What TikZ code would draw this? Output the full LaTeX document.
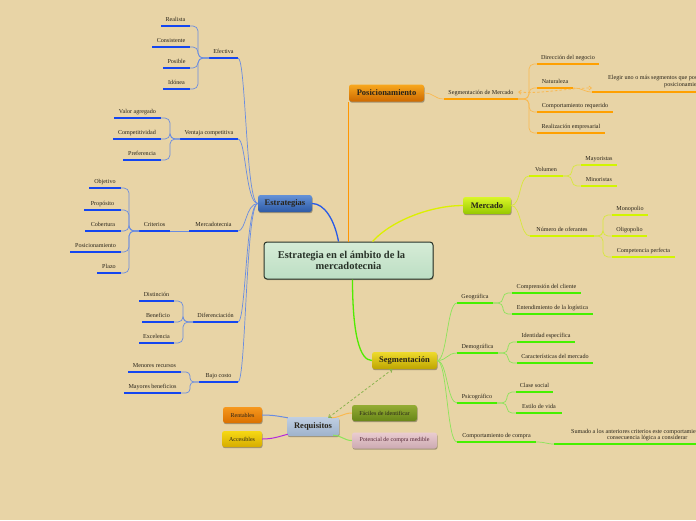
\documentclass[tikz,border=0pt]{standalone}
\usepackage{fontspec}
\setmainfont{Liberation Serif}
\usetikzlibrary{shadows,arrows.meta}
\definecolor{bg}{RGB}{232,212,166}
\definecolor{txt}{RGB}{40,35,25}
\definecolor{bluU}{RGB}{20,70,240}
\definecolor{bluC}{RGB}{105,140,225}
\definecolor{bluM}{RGB}{40,90,230}
\definecolor{oraU}{RGB}{255,160,0}
\definecolor{oraC}{RGB}{250,185,80}
\definecolor{oraM}{RGB}{255,150,0}
\definecolor{ylwU}{RGB}{210,245,0}
\definecolor{ylwC}{RGB}{215,232,60}
\definecolor{ylwM}{RGB}{220,240,0}
\definecolor{grnU}{RGB}{70,240,0}
\definecolor{grnC}{RGB}{140,228,90}
\definecolor{grnM}{RGB}{80,235,0}
\definecolor{purM}{RGB}{180,40,220}
\definecolor{dashG}{RGB}{140,180,80}
\newcommand\mmleaf[6]{%
  \coordinate (#1-l) at (#2,#4);
  \coordinate (#1-r) at (#3,#4);
  \draw[ul,#5] (#1-l) -- (#1-r);
  \node[lbl] (#1) at ({(#2+#3)/2},{#4-5}) {#6};
}
\tikzset{
 ul/.style={line width=2pt},
 conn/.style={line width=0.7pt},
 mainc/.style={line width=1.3pt},
 lbl/.style={anchor=base, inner sep=0pt, font=\fontsize{6.1}{7}\selectfont, text=txt},
 topic/.style={rounded corners=2.5pt, inner sep=0pt, font=\bfseries\fontsize{8.5}{10}\selectfont, text=txt, minimum height=17pt, drop shadow={shadow xshift=0.6pt, shadow yshift=-1.2pt, opacity=0.3, fill=black}},
 sbox/.style={topic, font=\fontsize{6}{7}\selectfont, minimum height=16pt},
 darr/.style={line width=0.8pt, dashed, dash pattern=on 2.5pt off 2pt, {Straight Barb[length=2.5pt,width=4pt]}-{Straight Barb[length=2.5pt,width=4pt]}},
}
\begin{document}
\begin{tikzpicture}[x=1pt,y=-1pt]
\useasboundingbox (0,0) rectangle (696,520);
\fill[bg] (0,0) rectangle (696,520);
\clip (0,0) rectangle (696,520);

% ---------- central and main topics ----------
\node[rounded corners=3pt, draw={rgb,255:red,40;green,50;blue,40}, line width=1pt,
  top color={rgb,255:red,214;green,236;blue,214}, bottom color={rgb,255:red,188;green,222;blue,196},
  minimum width=169pt, minimum height=37pt, align=center, inner sep=0pt,
  font=\bfseries\fontsize{10.5}{10.5}\selectfont, text={rgb,255:red,40;green,50;blue,40},
  drop shadow={shadow xshift=0.6pt, shadow yshift=-1.2pt, opacity=0.25, fill=black}]
  (cen) at (348.5,260.5) {Estrategia en el ámbito de la\hspace*{14pt}\\mercadotecnia};

\node[topic, minimum width=75pt, top color={rgb,255:red,248;green,168;blue,30}, bottom color={rgb,255:red,205;green,105;blue,0}] (posi) at (386.5,93) {Posicionamiento};
\node[topic, minimum width=54pt, top color={rgb,255:red,100;green,145;blue,215}, bottom color={rgb,255:red,45;green,90;blue,165}] (estr) at (285,203.5) {Estrategias};
\node[topic, minimum width=48pt, top color={rgb,255:red,218;green,246;blue,40}, bottom color={rgb,255:red,150;green,200;blue,0}] (merc) at (487,205.5) {Mercado};
\node[topic, minimum width=65pt, top color={rgb,255:red,238;green,218;blue,45}, bottom color={rgb,255:red,190;green,165;blue,0}] (segm) at (404.5,360.5) {Segmentación};
\node[topic, minimum width=52pt, minimum height=19pt, top color={rgb,255:red,192;green,207;blue,226}, bottom color={rgb,255:red,158;green,178;blue,204}] (req) at (313,426.5) {Requisitos};

\node[sbox, minimum width=39pt, top color={rgb,255:red,246;green,152;blue,30}, bottom color={rgb,255:red,218;green,112;blue,0}] (rent) at (242.5,415) {Rentables};
\node[sbox, minimum width=40pt, top color={rgb,255:red,246;green,216;blue,20}, bottom color={rgb,255:red,214;green,172;blue,0}] (acc) at (242,439) {Accesibles};
\node[sbox, minimum width=65pt, top color={rgb,255:red,148;green,172;blue,52}, bottom color={rgb,255:red,104;green,134;blue,24}] (fac) at (384.5,413) {Fáciles de identificar};
\node[sbox, minimum width=85pt, text={rgb,255:red,85;green,40;blue,55}, top color={rgb,255:red,234;green,204;blue,208}, bottom color={rgb,255:red,204;green,170;blue,178}] (pot) at (394.5,440.5) {Potencial de compra medible};

% main connectors
\draw[mainc, bluM] ([xshift=-10pt]cen.north) .. controls +(-4,-22) and +(12,0) .. (estr.east);
\draw[mainc, oraM] (cen.north) -- (cen.north |- posi.south);
\draw[mainc, ylwM] ([xshift=24pt]cen.north) .. controls +(20,-22) and +(-30,0) .. (merc.west);
\draw[mainc, grnM] ([xshift=4pt]cen.south) .. controls +(0,55) and +(-12,0) .. (segm.west);

% requisitos connectors
\draw[line width=1pt, bluC] (rent.east) to[out=0,in=170] ([xshift=1pt,yshift=-1pt]req.north west);
\draw[line width=1pt, purM] (acc.east) to[out=0,in=195] ([xshift=1pt,yshift=2pt]req.south west);
\draw[line width=1pt, oraC] ([xshift=-8pt,yshift=-1pt]req.north east) to[out=0,in=180] (fac.west);
\draw[line width=1pt, grnC] ([xshift=-6pt,yshift=1pt]req.south east) to[out=0,in=180] (pot.west);
\draw[darr, dashG] ([xshift=-11pt,yshift=-1pt]req.north east) -- ([xshift=-12pt]segm.south);

% ---------- Estrategias ----------
\mmleaf{efe}{209}{238}{58}{bluU}{Efectiva}
\mmleaf{rea}{161}{190}{26}{bluU}{Realista}
\mmleaf{con}{152}{190}{47}{bluU}{Consistente}
\mmleaf{pos}{163}{190}{68}{bluU}{Posible}
\mmleaf{ido}{163}{190}{89}{bluU}{Idónea}
\mmleaf{ven}{180}{238}{139}{bluU}{Ventaja competitiva}
\mmleaf{val}{114}{161}{118}{bluU}{Valor agregado}
\mmleaf{cmp}{113}{161}{139}{bluU}{Competitividad}
\mmleaf{pre}{123}{161}{160}{bluU}{Preferencia}
\mmleaf{mkt}{189}{238}{231}{bluU}{Mercadotecnia}
\mmleaf{cri}{139}{170}{231}{bluU}{Criterios}
\mmleaf{obj}{89}{121}{188}{bluU}{Objetivo}
\mmleaf{prp}{84}{121}{210}{bluU}{Propósito}
\mmleaf{cob}{85}{121}{231}{bluU}{Cobertura}
\mmleaf{psc}{70}{121}{252}{bluU}{Posicionamiento}
\mmleaf{pla}{97}{121}{273}{bluU}{Plazo}
\mmleaf{dif}{193}{238}{322}{bluU}{Diferenciación}
\mmleaf{dis}{139}{174}{301}{bluU}{Distinción}
\mmleaf{ben}{142}{174}{322}{bluU}{Beneficio}
\mmleaf{exc}{139}{174}{343}{bluU}{Excelencia}
\mmleaf{baj}{199}{238}{382}{bluU}{Bajo costo}
\mmleaf{men}{128}{181}{372}{bluU}{Menores recursos}
\mmleaf{may}{124}{181}{393}{bluU}{Mayores beneficios}

\foreach \s in {efe,ven,mkt,dif,baj}
  \draw[conn,bluC] (estr.west) .. controls +(-12,0) and +(8,0) .. (\s-r);
\foreach \s in {rea,con,pos,ido}
  \draw[conn,bluC,rounded corners=5pt] (efe-l) -- ++(-11,0) |- (\s-r);
\foreach \s in {val,cmp,pre}
  \draw[conn,bluC,rounded corners=5pt] (ven-l) -- ++(-10,0) |- (\s-r);
\draw[conn,bluC] (mkt-l) -- (cri-r);
\foreach \s in {obj,prp,cob,psc,pla}
  \draw[conn,bluC,rounded corners=5pt] (cri-l) -- ++(-10,0) |- (\s-r);
\foreach \s in {dis,ben,exc}
  \draw[conn,bluC,rounded corners=5pt] (dif-l) -- ++(-10,0) |- (\s-r);
\foreach \s in {men,may}
  \draw[conn,bluC,rounded corners=4pt] (baj-l) -- ++(-9,0) |- (\s-r);

% ---------- Posicionamiento ----------
\mmleaf{sdm}{444}{518}{99}{oraU}{Segmentación de Mercado}
\mmleaf{dir}{537}{599}{64}{oraU}{Dirección del negocio}
\mmleaf{nat}{537}{573}{88}{oraU}{Naturaleza}
\mmleaf{cre}{537}{613}{112}{oraU}{Comportamiento requerido}
\mmleaf{rem}{537}{605}{133}{oraU}{Realización empresarial}
\coordinate (eleg-l) at (592,92);
\coordinate (eleg-r) at (700,92);
\draw[ul,oraU] (eleg-l) -- (eleg-r);
\node[lbl, anchor=base west] (eleg) at (608,79.5) {Elegir uno o más segmentos que pos};
\node[lbl, anchor=base west] (eleg2) at (664,86) {posicionamie};

\draw[conn,oraC] (posi.east) .. controls +(10,0) and +(-10,0) .. (sdm-l);
\foreach \s in {dir,nat,cre,rem}
  \draw[conn,oraC,rounded corners=5pt] (sdm-r) -- ++(11,0) |- (\s-l);
\draw[conn,oraC] (nat-r) .. controls +(10,0) and +(-8,0) .. (eleg-l);
\draw[darr, oraC] ([yshift=7pt]sdm-r) .. controls +(25,2) and +(-25,0) .. ([yshift=4pt]eleg-l);

% ---------- Mercado ----------
\mmleaf{vol}{529}{563}{176}{ylwU}{Volumen}
\mmleaf{myr}{581}{617}{165}{ylwU}{Mayoristas}
\mmleaf{mnr}{581}{617}{186}{ylwU}{Minoristas}
\mmleaf{nof}{530}{594}{236}{ylwU}{Número de oferantes}
\mmleaf{mon}{612}{648}{215}{ylwU}{Monopolio}
\mmleaf{oli}{612}{647}{236}{ylwU}{Oligopolio}
\mmleaf{cpf}{612}{675}{257}{ylwU}{Competencia perfecta}

\foreach \s in {vol,nof}
  \draw[conn,ylwC] (merc.east) .. controls +(10,0) and +(-10,0) .. (\s-l);
\foreach \s in {myr,mnr}
  \draw[conn,ylwC,rounded corners=5pt] (vol-r) -- ++(9,0) |- (\s-l);
\foreach \s in {mon,oli,cpf}
  \draw[conn,ylwC,rounded corners=5pt] (nof-r) -- ++(9,0) |- (\s-l);

% ---------- Segmentación ----------
\mmleaf{geo}{457}{493}{303}{grnU}{Geográfica}
\mmleaf{cc}{512}{581}{293}{grnU}{Comprensión del cliente}
\mmleaf{el}{512}{593}{314}{grnU}{Entendimiento de la logística}
\mmleaf{dem}{457}{498}{353}{grnU}{Demográfica}
\mmleaf{ide}{517}{575}{342}{grnU}{Identidad específica}
\mmleaf{cdm}{517}{593}{363}{grnU}{Características del mercado}
\mmleaf{psi}{457}{497}{403}{grnU}{Psicográfico}
\mmleaf{cls}{516}{553}{392}{grnU}{Clase social}
\mmleaf{est}{516}{562}{413}{grnU}{Estilo de vida}
\mmleaf{ccp}{457}{536}{442}{grnU}{Comportamiento de compra}
\coordinate (sum-l) at (554,444);
\coordinate (sum-r) at (700,444);
\draw[ul,grnU] (sum-l) -- (sum-r);
\node[lbl, anchor=base west] (sum) at (571,433) {Sumado a los anteriores criterios este comportamie};
\node[lbl, anchor=base west] (sum2) at (607,439) {consecuencia lógica a considerar};

\foreach \s in {geo,dem,psi,ccp}
  \draw[conn,grnC] (segm.east) .. controls +(10,0) and +(-10,0) .. (\s-l);
\foreach \s in {cc,el}
  \draw[conn,grnC,rounded corners=5pt] (geo-r) -- ++(10,0) |- (\s-l);
\foreach \s in {ide,cdm}
  \draw[conn,grnC,rounded corners=5pt] (dem-r) -- ++(10,0) |- (\s-l);
\foreach \s in {cls,est}
  \draw[conn,grnC,rounded corners=5pt] (psi-r) -- ++(10,0) |- (\s-l);
\draw[conn,grnC] (ccp-r) .. controls +(10,0) and +(-8,0) .. (sum-l);
\end{tikzpicture}
\end{document}
